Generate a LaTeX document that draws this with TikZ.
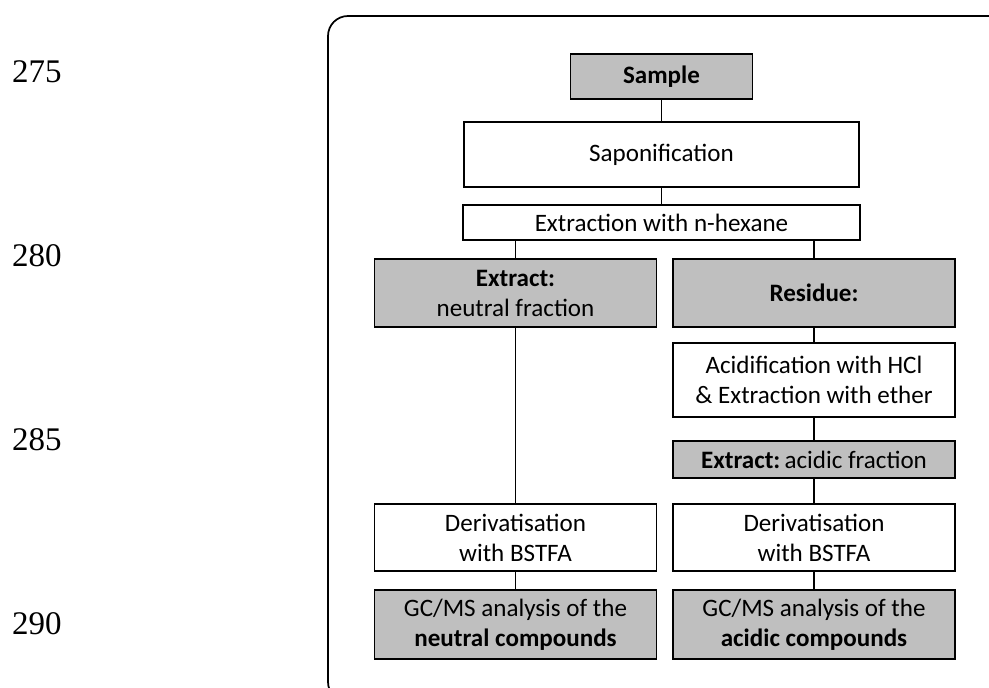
\documentclass[tikz,border=0pt]{standalone}
\usepackage{fontspec}
\setmainfont{Carlito}
\newfontfamily\numfont{Liberation Serif}

\begin{document}
\begin{tikzpicture}[x=0.75pt, y=-0.75pt,
  box/.style={draw, line width=1.2pt, inner sep=0pt, align=center,
    font=\fontsize{18.8}{22.5}\selectfont},
  shaded/.style={box, fill=black!25},
  colbox/.style={minimum width=282*0.75pt},
  lnum/.style={font=\numfont\fontsize{24.75}{28}\selectfont, inner sep=0pt},
  link/.style={line width=1.1pt}]
\useasboundingbox (0,0) rectangle (989,688);
% frame, cut at the right and bottom edges
\begin{scope}
\clip (0,0) rectangle (989,688);
\draw[line width=1.3pt, rounded corners=15pt] (328,16) rectangle (1008,702);
\end{scope}
% line numbers
\foreach \n [count=\i from 0] in {275,280,285,290}
  \node[lnum] (l\n) at (37,72+184*\i) {\n};
% main steps
\node[shaded, minimum width=182*0.75pt, minimum height=45*0.75pt] (sample) at (661.5,76.5) {\textbf{Sample}};
\node[box, minimum width=395*0.75pt, minimum height=65*0.75pt] (sapon) at (661.5,154.5) {Saponification};
\node[box, minimum width=397*0.75pt, minimum height=35*0.75pt] (hexane) at (661.5,222.5) {Extraction with n-hexane};
% neutral branch
\node[shaded, colbox, minimum height=68*0.75pt] (neutral) at (515.5,293) {\textbf{Extract:}\\neutral fraction};
\node[box, colbox, minimum height=67*0.75pt] (derivn) at (515.5,537.5) {Derivatisation\\with BSTFA};
\node[shaded, colbox, minimum height=69*0.75pt] (gcn) at (515.5,624.5) {GC/MS analysis of the\\\textbf{neutral compounds}};
% acidic branch
\node[shaded, colbox, minimum height=68*0.75pt] (residue) at (814,293) {\textbf{Residue:}};
\node[box, colbox, minimum height=74*0.75pt] (acidify) at (814,380) {Acidification with HCl\\\& Extraction with ether};
\node[shaded, colbox, minimum height=37*0.75pt] (acidic) at (814,459.5) {\textbf{Extract:}\,acidic fraction};
\node[box, colbox, minimum height=67*0.75pt] (deriva) at (814,537.5) {Derivatisation\\with BSTFA};
\node[shaded, colbox, minimum height=69*0.75pt] (gca) at (814,624.5) {GC/MS analysis of the\\\textbf{acidic compounds}};
% connectors
\foreach \a/\b in {sample/sapon, sapon/hexane, neutral/derivn, derivn/gcn,
    residue/acidify, acidify/acidic, acidic/deriva, deriva/gca}
  \draw[link] (\a) -- (\b);
\draw[link] (hexane.south -| neutral) -- (neutral);
\draw[link] (hexane.south -| residue) -- (residue);
\end{tikzpicture}
\end{document}
